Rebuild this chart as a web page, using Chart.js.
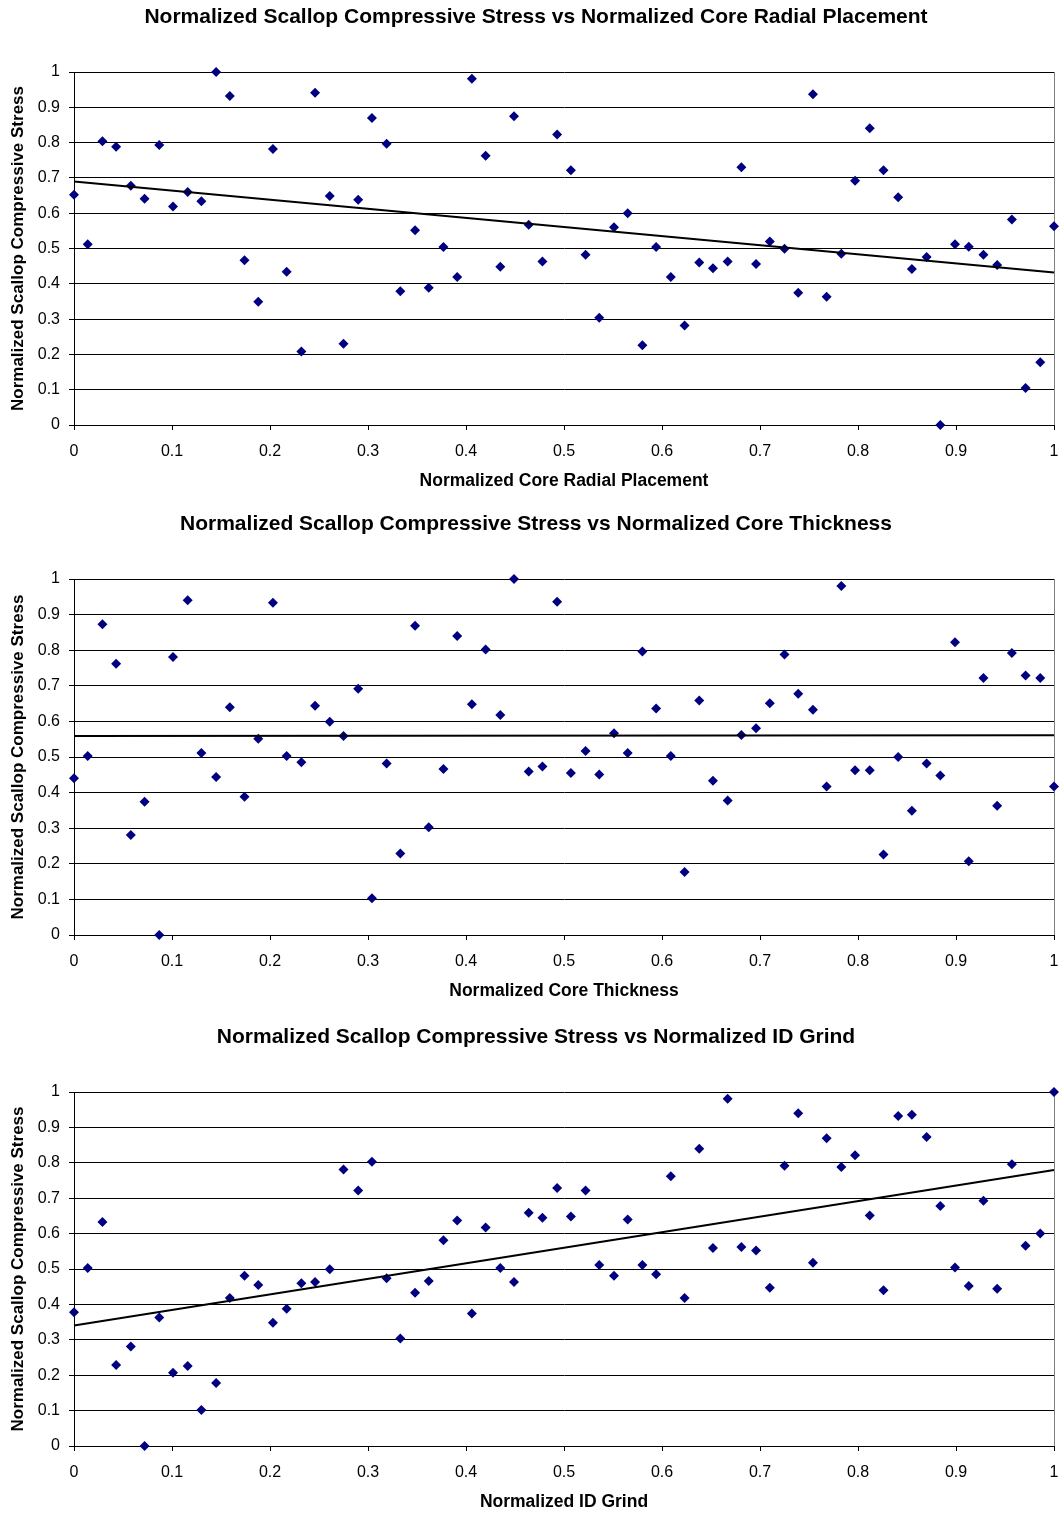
<!DOCTYPE html>
<html>
<head>
<meta charset="utf-8">
<script src="https://cdn.jsdelivr.net/npm/chart.js@4.4.1/dist/chart.umd.min.js"></script>
<style>
  html, body { margin: 0; padding: 0; background: #fff; }
  body { width: 1060px; height: 1513px; position: relative; overflow: hidden; }
  canvas { position: absolute; left: 0; }
</style>
</head>
<body>
<canvas id="radialChart" width="1060" height="505" style="top:0px"></canvas>
<canvas id="thicknessChart" width="1060" height="505" style="top:507px"></canvas>
<canvas id="grindChart" width="1060" height="493" style="top:1020px"></canvas>
<script>
// normalized x positions of the 70 samples (same for all three plots)
const xValues = [
  0, 0.014, 0.029, 0.043, 0.058, 0.072, 0.087, 0.101, 0.116, 0.130,
  0.145, 0.159, 0.174, 0.188, 0.203, 0.217, 0.232, 0.246, 0.261, 0.275,
  0.290, 0.304, 0.319, 0.333, 0.348, 0.362, 0.377, 0.391, 0.406, 0.420,
  0.435, 0.449, 0.464, 0.478, 0.493, 0.507, 0.522, 0.536, 0.551, 0.565,
  0.580, 0.594, 0.609, 0.623, 0.638, 0.652, 0.667, 0.681, 0.696, 0.710,
  0.725, 0.739, 0.754, 0.768, 0.783, 0.797, 0.812, 0.826, 0.841, 0.855,
  0.870, 0.884, 0.899, 0.913, 0.928, 0.942, 0.957, 0.971, 0.986, 1
];

const radialStress = [
  0.652, 0.512, 0.804, 0.788, 0.678, 0.641, 0.793, 0.619, 0.660, 0.634,
  1.0, 0.932, 0.467, 0.349, 0.782, 0.434, 0.208, 0.941, 0.649, 0.230,
  0.638, 0.870, 0.797, 0.379, 0.552, 0.389, 0.504, 0.419, 0.981, 0.763,
  0.448, 0.875, 0.567, 0.463, 0.823, 0.722, 0.482, 0.304, 0.560, 0.600,
  0.226, 0.504, 0.419, 0.282, 0.460, 0.444, 0.463, 0.730, 0.456, 0.520,
  0.499, 0.375, 0.937, 0.363, 0.485, 0.692, 0.841, 0.722, 0.645, 0.442,
  0.476, 0.0, 0.512, 0.505, 0.482, 0.453, 0.582, 0.105, 0.178, 0.563
];

const thicknessStress = [
  0.440, 0.503, 0.873, 0.762, 0.281, 0.374, 0.0, 0.781, 0.940, 0.511,
  0.444, 0.640, 0.388, 0.551, 0.933, 0.503, 0.485, 0.644, 0.599, 0.559,
  0.692, 0.103, 0.482, 0.229, 0.869, 0.303, 0.466, 0.840, 0.648, 0.802,
  0.618, 1.0, 0.459, 0.473, 0.936, 0.455, 0.517, 0.451, 0.567, 0.511,
  0.796, 0.636, 0.503, 0.177, 0.659, 0.433, 0.378, 0.562, 0.581, 0.651,
  0.788, 0.678, 0.633, 0.417, 0.980, 0.463, 0.463, 0.226, 0.500, 0.349,
  0.482, 0.448, 0.822, 0.207, 0.722, 0.363, 0.792, 0.729, 0.722, 0.417
];

const grindStress = [
  0.378, 0.503, 0.633, 0.229, 0.281, 0.0, 0.363, 0.207, 0.226, 0.102,
  0.178, 0.418, 0.481, 0.455, 0.348, 0.388, 0.460, 0.463, 0.499, 0.781,
  0.722, 0.803, 0.474, 0.304, 0.433, 0.466, 0.581, 0.637, 0.374, 0.617,
  0.503, 0.463, 0.659, 0.645, 0.729, 0.648, 0.722, 0.511, 0.481, 0.640,
  0.511, 0.485, 0.762, 0.418, 0.840, 0.559, 0.981, 0.562, 0.552, 0.447,
  0.792, 0.940, 0.518, 0.869, 0.788, 0.821, 0.651, 0.440, 0.932, 0.936,
  0.873, 0.678, 0.504, 0.452, 0.693, 0.444, 0.796, 0.566, 0.600, 1.0
];

const yTitle = "Normalized Scallop Compressive Stress";
const FONT = '"Liberation Sans", Arial, Helvetica, sans-serif';

Chart.defaults.font.family = FONT;
Chart.defaults.color = "#000";

function toPoints(ys) {
  return xValues.map((x, i) => ({ x: x, y: ys[i] }));
}

// linear least squares fit, like the Excel trendline
function trendLine(ys) {
  const n = xValues.length;
  let sx = 0, sy = 0, sxx = 0, sxy = 0;
  for (let i = 0; i < n; i++) {
    sx += xValues[i];
    sy += ys[i];
    sxx += xValues[i] * xValues[i];
    sxy += xValues[i] * ys[i];
  }
  const slope = (n * sxy - sx * sy) / (n * sxx - sx * sx);
  const icpt = (sy - slope * sx) / n;
  return [{ x: 0, y: icpt }, { x: 1, y: icpt + slope }];
}

// tick labels like "0", "0.1", ..., "1"
const fmtTick = (v) => String(+v.toFixed(1));

// gray right edge of the plot area
const plotFrame = {
  id: "plotFrame",
  beforeDatasetsDraw(chart) {
    const { ctx, chartArea: a } = chart;
    const x = Math.round(a.right) + 0.5;
    ctx.save();
    ctx.strokeStyle = "#808080";
    ctx.lineWidth = 1;
    ctx.beginPath();
    ctx.moveTo(x, a.top);
    ctx.lineTo(x, a.bottom);
    ctx.stroke();
    ctx.restore();
  },
};

function makeChart(id, title, xTitle, ys, xAxisHeight, xTitlePad) {
  const ctx = document.getElementById(id).getContext("2d");
  return new Chart(ctx, {
    type: "scatter",
    data: {
      datasets: [
        {
          label: "trend",
          type: "line",
          data: trendLine(ys),
          borderColor: "#000",
          borderWidth: 2,
          pointRadius: 0,
          fill: false,
          clip: false,
          order: 0,
        },
        {
          label: "stress",
          data: toPoints(ys),
          pointStyle: "rectRot",
          pointRadius: 5,
          pointBorderWidth: 0,
          backgroundColor: "#000080",
          borderColor: "#000080",
          clip: false,
          order: 1,
        },
      ],
    },
    options: {
      responsive: false,
      animation: false,
      events: [],
      layout: { padding: { left: 18, right: 6, top: 0, bottom: 0 } },
      plugins: {
        legend: { display: false },
        tooltip: { enabled: false },
        title: {
          display: true,
          text: title,
          color: "#000",
          font: { size: 21, weight: "bold" },
          padding: { top: 4.2, bottom: 42.6 },
        },
      },
      scales: {
        x: {
          type: "linear",
          min: 0,
          max: 1,
          afterFit: (s) => {
            s.height = xAxisHeight;
            s.paddingLeft = 0;
            s.paddingRight = 0;
          },
          ticks: {
            stepSize: 0.1,
            autoSkip: false,
            maxRotation: 0,
            padding: 11.5,
            font: { size: 16 },
            color: "#000",
            callback: fmtTick,
          },
          grid: { drawOnChartArea: false, drawTicks: true, tickLength: 5, color: "#000" },
          border: { display: true, color: "#000", width: 1 },
          title: {
            display: true,
            text: xTitle,
            color: "#000",
            font: { size: 17.5, weight: "bold" },
            padding: { top: 0, bottom: xTitlePad },
          },
        },
        y: {
          type: "linear",
          min: 0,
          max: 1,
          afterFit: (s) => {
            s.width = 56;
            s.paddingTop = 0;
            s.paddingBottom = 0;
          },
          ticks: {
            stepSize: 0.1,
            padding: 9,
            font: { size: 16 },
            color: "#000",
            callback: fmtTick,
          },
          grid: { color: "#000", tickLength: 5 },
          border: { display: true, color: "#000", width: 1 },
          title: {
            display: true,
            text: yTitle,
            color: "#000",
            font: { size: 17, weight: "bold" },
            padding: { top: -10.2, bottom: 0 },
          },
        },
      },
    },
    plugins: [plotFrame],
  });
}

makeChart("radialChart",
  "Normalized Scallop Compressive Stress vs Normalized Core Radial Placement",
  "Normalized Core Radial Placement", radialStress, 80, 13.5);
makeChart("thicknessChart",
  "Normalized Scallop Compressive Stress vs Normalized Core Thickness",
  "Normalized Core Thickness", thicknessStress, 77, 10.5);
makeChart("grindChart",
  "Normalized Scallop Compressive Stress vs Normalized ID Grind",
  "Normalized ID Grind", grindStress, 67, 0.5);
</script>
</body>
</html>
